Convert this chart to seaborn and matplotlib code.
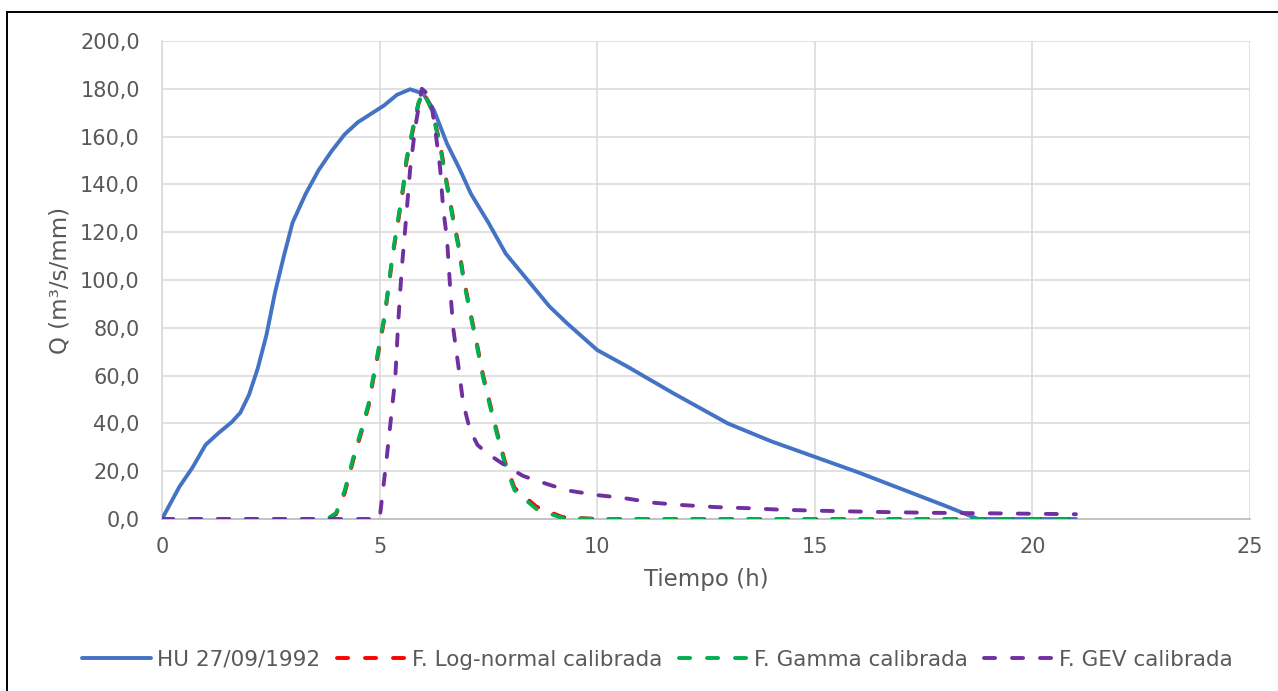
import matplotlib
matplotlib.use("Agg")
import matplotlib.pyplot as plt
import matplotlib.patches as mpatches
from matplotlib.ticker import FuncFormatter
import seaborn as sns
import pandas as pd

# Observed unit hydrograph, 27/09/1992
t_hu = [0, 0.4, 0.7, 1.0, 1.3, 1.6, 1.8, 2.0, 2.2, 2.4, 2.6, 2.8, 3.0, 3.3, 3.6,
        3.9, 4.2, 4.5, 4.8, 5.1, 5.4, 5.7, 6.0, 6.25, 6.55, 6.85, 7.1, 7.5, 7.9,
        8.4, 8.9, 9.3, 10.0, 10.7, 11.75, 13.0, 14.0, 15.0, 16.0, 17.0, 18.0,
        18.75, 19.0, 20.0, 21.0]
q_hu = [0, 13.5, 21.5, 31, 36, 40.5, 44.5, 52, 63, 77, 95, 110, 124, 136, 146,
        154, 161, 166, 169.5, 173, 177.5, 179.8, 178, 171, 157, 146, 136, 124, 111,
        100, 89, 82, 70.7, 63.7, 52.6, 40, 32.5, 26, 19.5, 12.5, 5.5,
        0, 0, 0, 0]

# Calibrated log-normal unit hydrograph
t_ln = [0, 1, 2, 3, 3.8, 4.0, 4.2, 4.4, 4.6, 4.75, 4.85, 5.0, 5.12, 5.2, 5.3,
        5.43, 5.54, 5.62, 5.77, 5.89, 6.0, 6.2, 6.39, 6.55, 6.69, 6.81, 6.92,
        7.08, 7.24, 7.38, 7.54, 7.69, 7.88, 8.1, 8.6, 9.2, 10, 11, 12, 13, 14,
        15, 16, 17, 18, 19, 20, 21]
q_ln = [0, 0, 0, 0, 0, 2.0, 11, 25, 37.5, 47.5, 58, 72.5, 85, 96, 110,
        125, 138, 150, 163, 173.5, 179, 171.5, 157, 140, 126, 115, 102,
        87, 73, 60, 48, 37, 24, 13, 5.2, 0.8, 0, 0, 0, 0, 0,
        0, 0, 0, 0, 0, 0, 0]

# Calibrated gamma unit hydrograph
t_ga = [0, 1, 2, 3, 3.8, 4.0, 4.2, 4.4, 4.6, 4.75, 4.85, 5.0, 5.12, 5.2, 5.3,
        5.43, 5.54, 5.62, 5.77, 5.89, 6.0, 6.2, 6.39, 6.55, 6.69, 6.81, 6.92,
        7.08, 7.24, 7.38, 7.54, 7.69, 7.88, 8.1, 8.6, 9.2, 10, 11, 12, 13, 14,
        15, 16, 17, 18, 19, 20, 21]
q_ga = [0, 0, 0, 0, 0, 2.5, 12, 26, 38.5, 48.5, 59, 73.6, 86, 97, 111,
        126, 139, 151, 164, 174, 179, 171, 156, 139, 125, 114, 101,
        86, 72, 59, 47, 36, 23, 12, 4.2, 0.4, 0, 0, 0, 0, 0,
        0, 0, 0, 0, 0, 0, 0]

# Calibrated GEV unit hydrograph
t_gev = [0, 1, 2, 3, 4, 5.0, 5.16, 5.24, 5.36, 5.43, 5.51, 5.61, 5.7, 5.82,
         5.97, 6.16, 6.27, 6.39, 6.46, 6.55, 6.62, 6.69, 6.81, 6.92, 7.08,
         7.25, 7.46, 7.92, 8.3, 8.7, 9.3, 10.0, 10.6, 11.3, 11.9, 12.7, 13.5,
         14.2, 15.0, 16.3, 17.6, 18.9, 20.0, 21.0]
q_gev = [0, 0, 0, 0, 0, 0, 25, 38.5, 59, 83, 105, 126, 146, 164,
         180, 177, 164, 147, 130, 117, 97, 80, 64, 48.5, 37,
         31, 27.6, 22, 18, 15.5, 12, 10, 8.8, 6.8, 5.9, 5, 4.5,
         3.9, 3.5, 3, 2.6, 2.4, 2.2, 2.0]

x_ticks = [0, 5, 10, 15, 20, 25]
y_ticks = [0, 20, 40, 60, 80, 100, 120, 140, 160, 180, 200]

labels = ["HU 27/09/1992", "F. Log-normal calibrada",
          "F. Gamma calibrada", "F. GEV calibrada"]
colors = ["#4472C4", "#FF0000", "#00B050", "#7030A0"]

sns.set_theme(style="whitegrid")
plt.rcParams["font.family"] = ["DejaVu Sans"]

fig = plt.figure(figsize=(12.78, 6.91), dpi=100)
ax = fig.add_axes([162 / 1278, 1 - 519 / 691, (1250 - 162) / 1278, (519 - 41) / 691])

series = [(t_hu, q_hu), (t_ln, q_ln), (t_ga, q_ga), (t_gev, q_gev)]
lw = 2.8
dash = (0, (2.85, 4.35))
for i, ((t, q), lab, col) in enumerate(zip(series, labels, colors)):
    df = pd.DataFrame({"t": t, "q": q})
    kw = dict(linewidth=lw, solid_capstyle="round", solid_joinstyle="round")
    if i > 0:
        kw.update(linestyle=dash, dash_capstyle="round", dash_joinstyle="round")
    sns.lineplot(data=df, x="t", y="q", ax=ax, color=col, label=lab,
                 sort=False, estimator=None, zorder=3 + i, **kw)

ax.set_xlim(0, 25)
ax.set_ylim(0, 200)
ax.set_xticks(x_ticks)
ax.set_yticks(y_ticks)
ax.yaxis.set_major_formatter(FuncFormatter(lambda v, p: f"{v:.1f}".replace(".", ",")))
ax.xaxis.set_major_formatter(FuncFormatter(lambda v, p: f"{int(v)}"))

ax.grid(True, color="#D9D9D9", linewidth=1.1)
ax.set_axisbelow(True)
for side in ["top", "right"]:
    ax.spines[side].set_visible(False)
ax.spines["left"].set_color("#D9D9D9")
ax.spines["left"].set_linewidth(1.1)
ax.spines["bottom"].set_color("#BFBFBF")
ax.spines["bottom"].set_linewidth(1.3)

ax.tick_params(axis="both", length=0, labelsize=15, labelcolor="#595959")
ax.tick_params(axis="y", pad=16)
ax.tick_params(axis="x", pad=13)

ax.set_xlabel("Tiempo (h)", fontsize=16.5, color="#595959", labelpad=8)
ax.set_ylabel("Q (m³/s/mm)", fontsize=16.5, color="#595959", labelpad=6)

ax.legend_.remove()
handles, labs = ax.get_legend_handles_labels()
fig.legend(handles, labs, loc="center", bbox_to_anchor=(0.5145, 0.045), ncol=4,
           frameon=False, fontsize=15.5, handlelength=3.2, handletextpad=0.3,
           columnspacing=0.75, labelcolor="#595959")

# Outer chart border (left and top edges sit inside the canvas)
fig.patches.append(mpatches.Rectangle((7 / 1278, -0.1), 1.2, 1.1 - 11.5 / 691,
                                      transform=fig.transFigure, fill=False,
                                      edgecolor="black", linewidth=1.4))

fig.savefig("out.png", dpi=100, facecolor="white")
